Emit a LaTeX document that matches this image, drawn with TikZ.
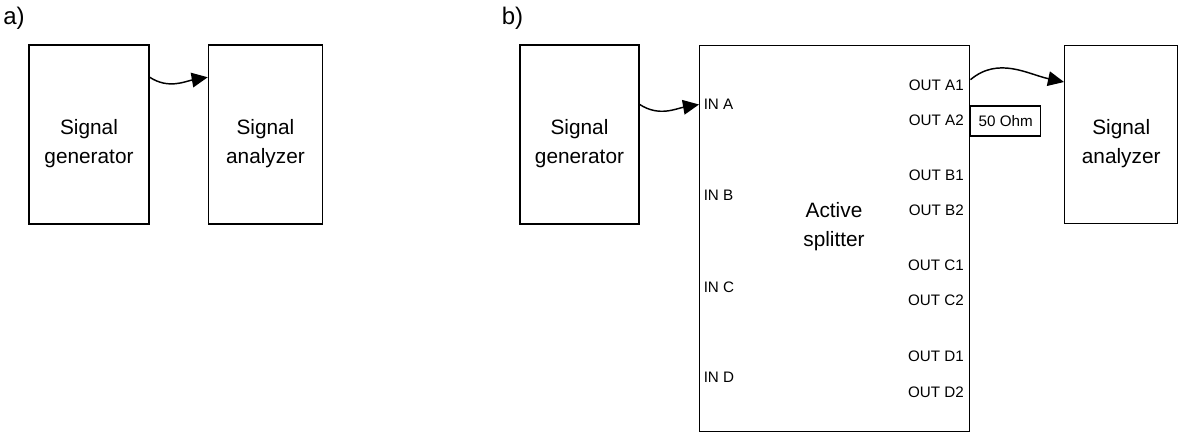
\documentclass[tikz,border=0pt]{standalone}
\usepackage{fontspec}
\setmainfont{Liberation Sans}
\usetikzlibrary{arrows.meta,positioning}

\begin{document}
\begin{tikzpicture}[
  x=0.75pt, y=-0.75pt,
  box/.style={draw, line width=1.1pt, inner sep=0pt, minimum height=134.25pt},
  boxtext/.style={align=center, inner sep=0pt, font=\fontsize{15.6}{22}\selectfont, yshift=-6.75pt},
  port/.style={inner sep=0pt, font=\fontsize{11.4}{13}\selectfont},
  tag/.style={inner sep=0pt, anchor=west, font=\fontsize{18}{21}\selectfont},
  arr/.style={-{Triangle[length=12pt, width=11pt]}, line width=1.1pt}
]
  \useasboundingbox (0,0) rectangle (1179,433);

  % a) direct connection
  \node[tag] (taga) at (3,18.5) {a)};
  \node[box, minimum width=90pt] (genA) at (89,134.5) {};
  \node[box, minimum width=85.5pt, right=43.5pt of genA] (anaA) {};
  \node[boxtext] at (genA) {Signal\\generator};
  \node[boxtext] at (anaA) {Signal\\analyzer};
  \draw[arr] ([yshift=-24.75pt]genA.north east) to[out=-33, in=190] ([yshift=-24.75pt]anaA.north west);

  % b) through the active splitter
  \node[tag] (tagb) at (501.5,18.5) {b)};
  \node[box, minimum width=89.25pt] (genB) at (579.5,134.5) {};
  \node[box, minimum width=202.5pt, minimum height=289.5pt, anchor=north west] (split) at (699,45) {};
  \node[box, minimum width=84.75pt, minimum height=133.5pt, anchor=north west] (anaB) at (1064,45) {};
  \node[boxtext] at (genB) {Signal\\generator};
  \node[boxtext] at (anaB) {Signal\\analyzer};
  \node[boxtext, yshift=6.75pt] (splittext) at (834,226.5) {Active\\splitter};

  % ports
  \foreach \pin/\py in {A/104.5, B/195.5, C/287, D/377.5}
    \node[port, anchor=west] (in\pin) at (703.5,\py) {IN \pin};
  \foreach \pout/\ya/\yb in {A/85.3/120, B/175.3/210.5, C/265.5/300.5, D/356.5/392}{
    \node[port, anchor=east] (out\pout1) at (964,\ya) {OUT \pout1};
    \node[port, anchor=east] (out\pout2) at (964,\yb) {OUT \pout2};
  }
  \node[box, port, minimum width=52.5pt, minimum height=22.5pt, anchor=west] (term) at (970,121) {50 Ohm};

  \draw[arr] (genB.east |- inA) to[out=-33, in=190] (split.west |- inA);
  \draw[arr] ([yshift=-26pt]split.north east) to[out=40, in=168] ([yshift=-27.75pt]anaB.north west);
\end{tikzpicture}
\end{document}
